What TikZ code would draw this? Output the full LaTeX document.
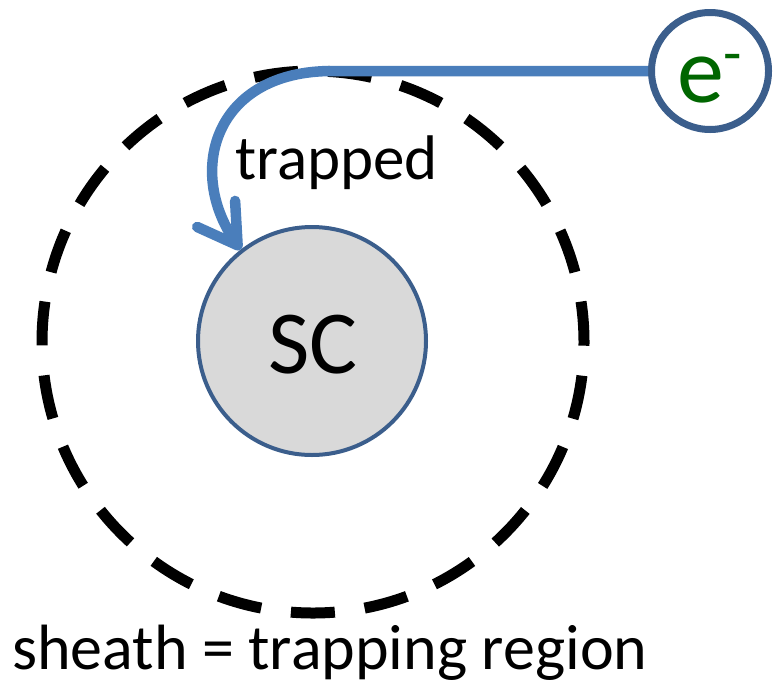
\documentclass[tikz,border=0pt]{standalone}
\usepackage{fontspec}
\setmainfont{Carlito}
\usetikzlibrary{arrows.meta}
\definecolor{ringblue}{RGB}{59,94,140}
\definecolor{pathblue}{RGB}{74,126,187}
\definecolor{scgray}{RGB}{217,217,217}
\definecolor{egreen}{RGB}{0,102,0}
\tikzset{
  sheathring/.style={draw=black, line width=11pt, dash pattern=on 44pt off 30.03pt, dash phase=40.3pt},
  bodycircle/.style={circle, draw=ringblue, inner sep=0pt},
  lbl/.style={inner sep=0pt, anchor=base west},
  trajectory/.style={draw=pathblue, line width=10.5pt, -{Straight Barb[length=38pt,width=46pt,round]}}
}
\begin{document}
\begin{tikzpicture}[x=1pt,y=-1pt]
\useasboundingbox (0,0) rectangle (775,686);
% sheath (trapping region)
\draw[sheathring] (313,342) circle[radius=271];
% spacecraft
\node[bodycircle, line width=4pt, fill=scgray, minimum size=228pt] (sc) at (312,341) {};
\node[inner sep=0pt, anchor=base] (sctext) at (313,373) {\fontsize{90}{90}\selectfont SC};
% electron
\node[bodycircle, line width=7pt, fill=white, minimum size=117pt] (e) at (710,71) {};
\node[lbl, text=egreen] (etext) at (677,102) {\fontsize{94}{94}\selectfont e\raisebox{28.5pt}{\fontsize{60}{60}\selectfont -}};
% trajectory
\coordinate (corner) at (332,71);
\draw[trajectory] (e.west) -- (corner) .. controls (215,71) and (186,170) .. (sc.128.9);
% labels
\node[lbl] (trapped) at (235,179) {\fontsize{63}{63}\selectfont trapped};
\node[lbl] (caption) at (12,669) {\fontsize{64}{64}\selectfont sheath = trapping region};
\end{tikzpicture}
\end{document}
